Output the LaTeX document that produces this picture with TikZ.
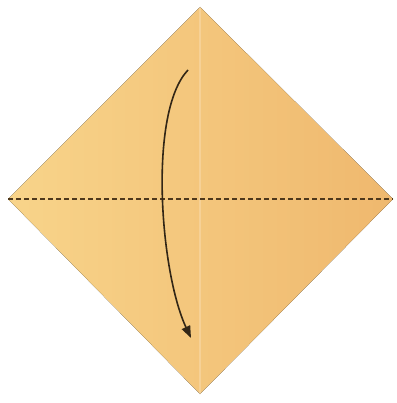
\documentclass[tikz,border=0pt]{standalone}
\usepackage{tikz}
\usetikzlibrary{arrows.meta}
\definecolor{paperlight}{RGB}{248,212,138}
\definecolor{paperdeep}{RGB}{239,184,110}
\definecolor{foldbrown}{RGB}{78,56,28}
\definecolor{arrowdark}{RGB}{50,38,22}

\begin{document}
\begin{tikzpicture}[x=1pt, y=-1pt,
    paper/.style={left color=paperlight, right color=paperdeep, draw=none},
    crease/.style={white, opacity=0.2, line width=1.2pt},
    valley/.style={foldbrown, line width=2.4pt, dash pattern=on 4.5pt off 3.5pt},
    foldarr/.style={-{Triangle[length=12pt, width=9pt]}, arrowdark, line width=1.6pt},
  ]
    \useasboundingbox (0,0) rectangle (396,403);
    \coordinate (T) at (200,7);
    \coordinate (L) at (8,199);
    \coordinate (R) at (393,199);
    \coordinate (B) at (200,394);
    \fill[paper] (T) -- (R) -- (B) -- (L) -- cycle;
    % centre crease and fold line
    \draw[crease] (T) -- (B);
    \draw[valley] (L) -- (R);
    % fold the top corner down
    \coordinate (S) at (188,70);
    \coordinate (E) at (191,338);
    \draw[foldarr] (S) .. controls (148,112) and (160,272) .. (E);
  \end{tikzpicture}
\end{document}
